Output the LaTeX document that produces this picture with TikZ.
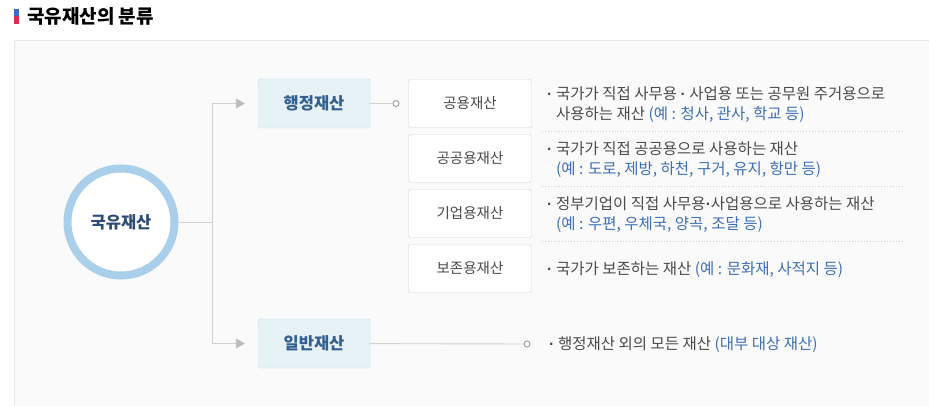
\documentclass[tikz,border=0pt]{standalone}
\usepackage{fontspec}
\setmainfont{Noto Sans CJK KR}
\newfontfamily\latinf{Liberation Sans}
\usetikzlibrary{arrows.meta,positioning}

\definecolor{panelbg}{HTML}{FAFAFB}
\definecolor{panelline}{HTML}{E6E6E6}
\definecolor{ringblue}{HTML}{A9CFEB}
\definecolor{rootblue}{HTML}{2C4C77}
\definecolor{labelblue}{HTML}{33608F}
\definecolor{boxfill}{HTML}{E7F2F7}
\definecolor{boxline}{HTML}{CADFE9}
\definecolor{subline}{HTML}{D6D6D6}
\definecolor{textgray}{HTML}{4A4A4A}
\definecolor{exblue}{HTML}{3D6EB3}
\definecolor{linegray}{HTML}{D0D0D0}
\definecolor{tipgray}{HTML}{BDBDBD}
\definecolor{dotgray}{HTML}{A8A8A8}
\definecolor{sepgray}{HTML}{CFCFCF}
\definecolor{markblue}{HTML}{3C6BC2}
\definecolor{markred}{HTML}{D8304E}

\newcommand\md{{\latinf\textbf{·}}}
\newcommand\bul{\makebox[9pt][l]{\md}}
\newcommand\ind{\hspace*{9pt}}
\newcommand\ex[1]{{\color{exblue}#1}}

\begin{document}
\begin{tikzpicture}[x=1pt,y=-1pt,
  every node/.style={inner sep=0pt},
  rootnode/.style={circle, draw=ringblue, line width=8pt, fill=white, minimum size=107pt,
    font=\fontsize{16.5}{18}\selectfont\bfseries, text=rootblue},
  mainbox/.style={draw=boxline, fill=boxfill, minimum width=112pt, minimum height=49pt,
    rounded corners=1.5pt, font=\fontsize{16.5}{18}\selectfont\bfseries, text=labelblue},
  subbox/.style={draw=subline, fill=white, minimum width=123pt, minimum height=48pt,
    rounded corners=1.5pt, font=\fontsize{14.5}{16}\selectfont, text=textgray},
  desc/.style={anchor=west, align=left, font=\fontsize{15.5}{20}\selectfont, text=textgray},
  dot/.style={circle, draw=dotgray, fill=white, line width=1.1pt, minimum size=6pt},
  link/.style={draw=linegray, line width=0.9pt},
  sep/.style={draw=sepgray, dotted, line width=0.9pt}
]
\useasboundingbox (0,0) rectangle (929,406);

% panel and title
\fill[panelbg] (14,40) rectangle (929,406);
\draw[panelline] (14,406) -- (14,40) -- (929,40);
\fill[markblue] (14,9) rectangle (19,16);
\fill[markred] (14,16) rectangle (19,24);
\node[anchor=west, font=\fontsize{19}{20}\selectfont\bfseries, text=black] (title) at (27,16) {국유재산의 분류};

% tree
\node[rootnode] (root) at (121,222) {국유재산};
\node[mainbox] (haeng) at (314,103.5) {행정재산};
\node[mainbox] (ilban) at (314,343.5) {일반재산};
\coordinate (jn) at (212,222);

\draw[link] (root) -- (jn);
\draw[link, -{Triangle[length=9pt,width=10pt,color=tipgray]}, shorten >=13pt] (jn) |- (haeng);
\draw[link, -{Triangle[length=9pt,width=10pt,color=tipgray]}, shorten >=13pt] (jn) |- (ilban);

\node[dot] (d1) at (396,103.5) {};
\node[dot] (d2) at (527,344) {};
\draw[link] (haeng) -- (d1);
\draw[link] (ilban) -- (d2);

\node[subbox] (gongyong) at (470,103.5) {공용재산};
\node[subbox] (gonggong) at (470,158.5) {공공용재산};
\node[subbox] (giup) at (470,213.5) {기업용재산};
\node[subbox] (bojon) at (470,268.5) {보존용재산};

% descriptions
\node[desc] (t1) at (547,104.5) {\bul 국가가 직접 사무용 \md{} 사업용 또는 공무원 주거용으로\\\ind 사용하는 재산 \ex{(예 : 청사, 관사, 학교 등)}};
\node[desc] (t2) at (547,159.5) {\bul 국가가 직접 공공용으로 사용하는 재산\\\ind \ex{(예 : 도로, 제방, 하천, 구거, 유지, 항만 등)}};
\node[desc] (t3) at (547,214.5) {\bul 정부기업이 직접 사무용\md 사업용으로 사용하는 재산\\\ind \ex{(예 : 우편, 우체국, 양곡, 조달 등)}};
\node[desc] (t4) at (547,269.5) {\bul 국가가 보존하는 재산 \ex{(예 : 문화재, 사적지 등)}};
\node[desc] (t5) at (549,344.5) {\bul 행정재산 외의 모든 재산 \ex{(대부 대상 재산)}};

\coordinate (s1a) at (542,131); \coordinate (s1b) at (903,131);
\coordinate (s2a) at (542,186); \coordinate (s2b) at (903,186);
\coordinate (s3a) at (542,241); \coordinate (s3b) at (903,241);
\draw[sep] (s1a) -- (s1b);
\draw[sep] (s2a) -- (s2b);
\draw[sep] (s3a) -- (s3b);
\end{tikzpicture}
\end{document}
